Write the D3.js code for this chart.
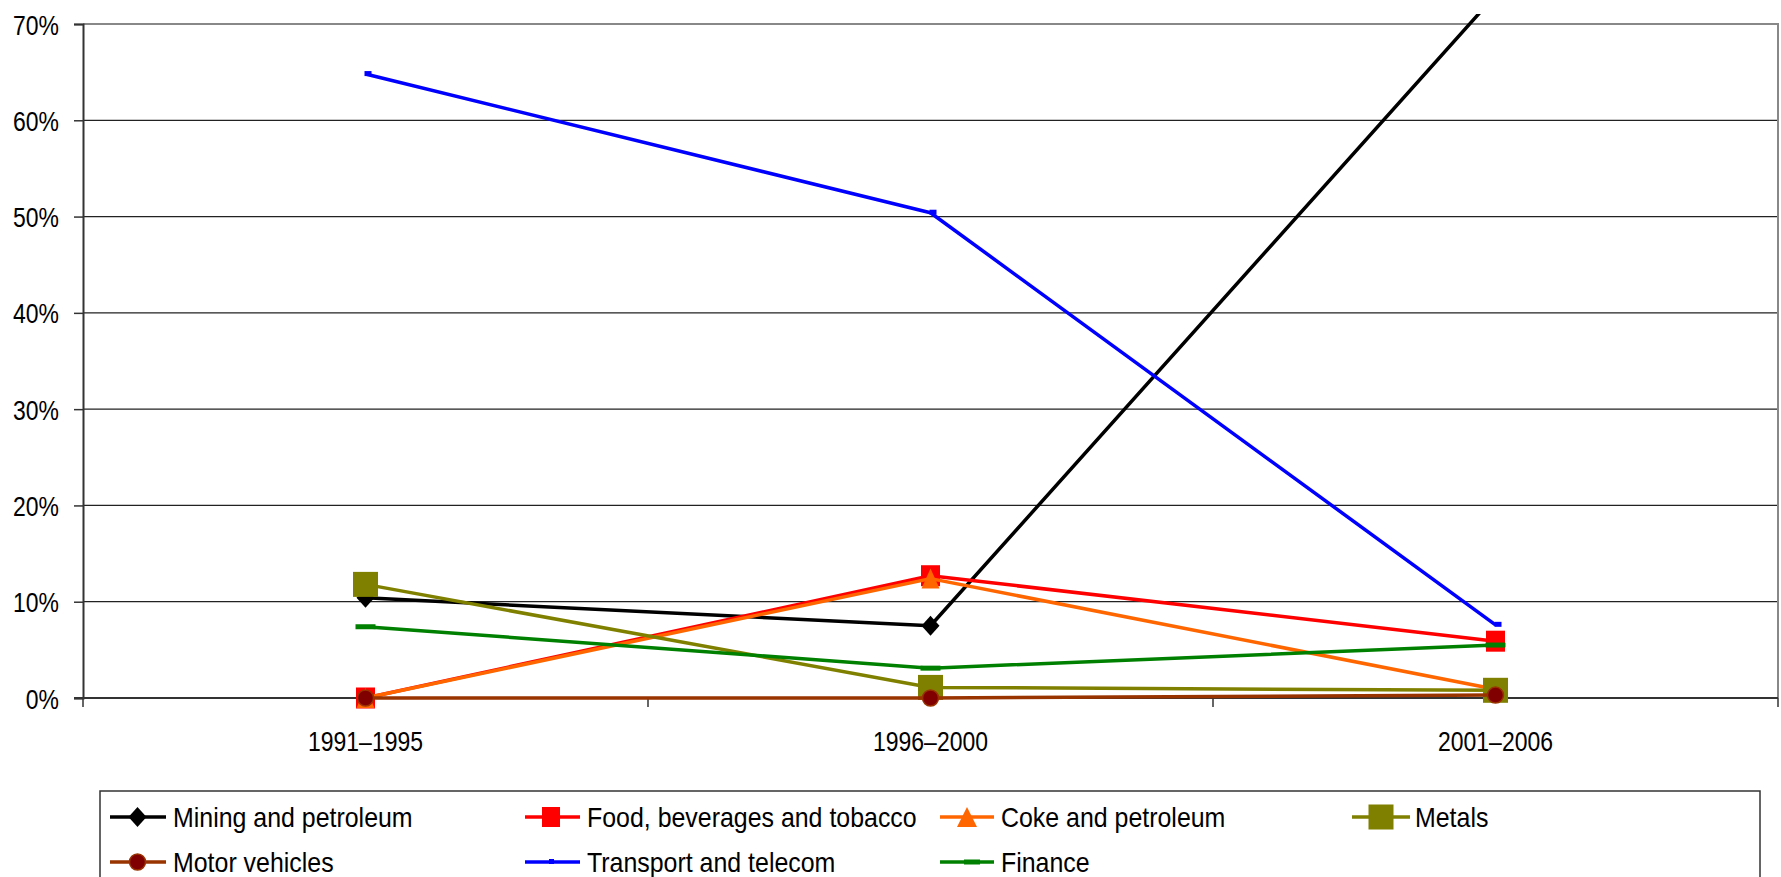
<!DOCTYPE html>
<html>
<head>
<meta charset="utf-8">
<script src="https://cdn.jsdelivr.net/npm/d3@7/dist/d3.min.js"></script>
<style>
  html, body { margin: 0; padding: 0; background: #fff; }
  svg { display: block; }
  text { font-family: "Liberation Sans", Arial, sans-serif; fill: #000; }
</style>
</head>
<body>
<svg id="chart" width="1781" height="877"></svg>
<script>
// Periods on the category axis
const periods = ["1991–1995", "1996–2000", "2001–2006"];

// Share of FDI by sector (%), one array per sector
const mining    = [10.4, 7.5, 73.0];
const food      = [0.0, 12.7, 5.9];
const coke      = [0.0, 12.4, 0.9];
const metals    = [11.8, 1.1, 0.8];
const motor     = [0.0, 0.0, 0.3];
const transport = [64.8, 50.4, 7.6];
const finance   = [7.4, 3.1, 5.5];

// Value axis ticks
const yTicks = [0, 10, 20, 30, 40, 50, 60, 70];

const seriesNames = [
  "Mining and petroleum", "Food, beverages and tobacco", "Coke and petroleum", "Metals",
  "Motor vehicles", "Transport and telecom", "Finance"
];
const seriesValues = [mining, food, coke, metals, motor, transport, finance];

// Per-series style: line colour and marker kind
const styles = [
  { color: "#000000", marker: "diamond" },
  { color: "#FF0000", marker: "square" },
  { color: "#FF6600", marker: "triangle" },
  { color: "#808000", marker: "bigsquare" },
  { color: "#993300", marker: "circle", fill: "#800000" },
  { color: "#0000FF", marker: "dashSmall" },
  { color: "#008000", marker: "dashWide" }
];

const svg = d3.select("#chart");
const plot = { left: 83, right: 1778, top: 24, bottom: 698 };

const x = d3.scaleBand().domain(periods).range([plot.left, plot.right]);
const cx = d => x(d) + x.bandwidth() / 2;
const y = d3.scaleLinear().domain([0, 70]).range([plot.bottom, plot.top]);

// Condensed text: draws a label squeezed horizontally by factor s
function narrowText(g, tx, ty, str, s, anchor) {
  return g.append("text")
    .attr("transform", `translate(${tx},${ty}) scale(${s},1)`)
    .attr("text-anchor", anchor || "start")
    .attr("dy", "0.36em")
    .attr("font-size", 28)
    .text(str);
}

// Horizontal gridlines
svg.append("g").selectAll("line").data(yTicks.filter(t => t > 0 && t < 70)).join("line")
  .attr("x1", plot.left).attr("x2", plot.right)
  .attr("y1", d => y(d)).attr("y2", d => y(d))
  .attr("stroke", "#222").attr("stroke-width", 1.2);

// Plot area border (top and right)
svg.append("path")
  .attr("d", `M${plot.left},${y(70)}H${plot.right}V${plot.bottom}`)
  .attr("fill", "none").attr("stroke", "#888").attr("stroke-width", 2);

// Value axis
const yAxis = svg.append("g")
  .attr("transform", `translate(${plot.left},0)`)
  .call(d3.axisLeft(y).tickValues(yTicks).tickFormat(d => d + "%").tickSize(9).tickPadding(24));
yAxis.select(".domain").attr("stroke", "#333").attr("stroke-width", 2);
yAxis.selectAll(".tick line").attr("stroke", "#333").attr("stroke-width", 1.5);
yAxis.selectAll(".tick text")
  .attr("font-size", 28).attr("dy", "0.36em")
  .attr("x", -24 / 0.82)
  .attr("transform", "scale(0.82,1)")
  .style("font-family", '"Liberation Sans", Arial, sans-serif');

// Category axis: baseline, boundary ticks and centred labels
svg.append("line")
  .attr("x1", plot.left - 9).attr("x2", plot.right)
  .attr("y1", y(0)).attr("y2", y(0))
  .attr("stroke", "#333").attr("stroke-width", 2);
const bounds = periods.map(p => x(p)).concat([plot.right]);
svg.append("g").selectAll("line").data(bounds).join("line")
  .attr("x1", d => d).attr("x2", d => d)
  .attr("y1", y(0)).attr("y2", y(0) + 9)
  .attr("stroke", "#333").attr("stroke-width", 1.5);
const xLabels = svg.append("g");
periods.forEach(p => narrowText(xLabels, cx(p), y(0) + 43, p, 0.82, "middle"));

// Clip so the lines stop just above the plot area
svg.append("clipPath").attr("id", "plotClip")
  .append("rect").attr("x", plot.left).attr("y", plot.top - 10)
  .attr("width", plot.right - plot.left).attr("height", plot.bottom - plot.top + 30);

// Marker drawing helper
function drawMarker(g, kind, px, py, st, legend) {
  const c = st.color;
  if (kind === "diamond") {
    g.append("path").attr("d", `M${px},${py - 10}L${px + 9},${py}L${px},${py + 10}L${px - 9},${py}Z`).attr("fill", c);
  } else if (kind === "square") {
    const w = legend ? 18 : 19, h = legend ? 20 : 21;
    g.append("rect").attr("x", px - w / 2).attr("y", py - h / 2).attr("width", w).attr("height", h).attr("fill", c);
  } else if (kind === "triangle") {
    const w = legend ? 20 : 18, h = 20;
    g.append("path").attr("d", `M${px},${py - h / 2}L${px + w / 2},${py + h / 2}L${px - w / 2},${py + h / 2}Z`).attr("fill", c);
  } else if (kind === "bigsquare") {
    const w = 25, h = 25;
    g.append("rect").attr("x", px - w / 2).attr("y", py - h / 2).attr("width", w).attr("height", h).attr("fill", c);
  } else if (kind === "circle") {
    g.append("circle").attr("cx", px).attr("cy", py).attr("r", 8)
      .attr("fill", st.fill).attr("stroke", c).attr("stroke-width", 1.5);
  } else if (kind === "dashSmall") {
    const w = legend ? 5 : 7;
    g.append("rect").attr("x", legend ? px - 2 : px - 1).attr("y", py - 3).attr("width", w).attr("height", 5).attr("fill", c);
  } else if (kind === "dashWide") {
    const w = legend ? 16 : 20;
    g.append("rect").attr("x", legend ? px - 3 : px - w / 2).attr("y", py - 2.5).attr("width", w).attr("height", 5).attr("fill", c);
  }
}

// Series: line followed by its markers, in series order
const line = d3.line().x((d, i) => cx(periods[i])).y(d => y(d));
seriesValues.forEach((vals, si) => {
  const st = styles[si];
  const g = svg.append("g");
  g.append("path").datum(vals)
    .attr("clip-path", "url(#plotClip)")
    .attr("d", line)
    .attr("fill", "none").attr("stroke", st.color)
    .attr("stroke-width", 3.5).attr("stroke-linejoin", "round");
  const mg = g.append("g").attr("clip-path", "url(#plotClip)");
  vals.forEach((v, i) => {
    if (v <= 70) drawMarker(mg, st.marker, cx(periods[i]), y(v), st, false);
  });
});

// Legend
const legendBox = { x: 100, y: 791, w: 1660, h: 120 };
svg.append("rect")
  .attr("x", legendBox.x).attr("y", legendBox.y)
  .attr("width", legendBox.w).attr("height", legendBox.h)
  .attr("fill", "#fff").attr("stroke", "#333").attr("stroke-width", 1.5);

const legendCols = [
  { x1: 110, x2: 166, mx: 137.5, tx: 173 },
  { x1: 525, x2: 580, mx: 551, tx: 587 },
  { x1: 940, x2: 994, mx: 967, tx: 1001 },
  { x1: 1352, x2: 1410, mx: 1381, tx: 1415 }
];
const legendRows = [817, 862];

seriesNames.forEach((name, i) => {
  const col = legendCols[i % 4];
  const ry = legendRows[Math.floor(i / 4)];
  const st = styles[i];
  const g = svg.append("g");
  g.append("line").attr("x1", col.x1).attr("x2", col.x2).attr("y1", ry).attr("y2", ry)
    .attr("stroke", st.color).attr("stroke-width", 3.5);
  drawMarker(g, st.marker, col.mx, ry, st, true);
  narrowText(g, col.tx, ry, name, 0.89, "start");
});
</script>
</body>
</html>
